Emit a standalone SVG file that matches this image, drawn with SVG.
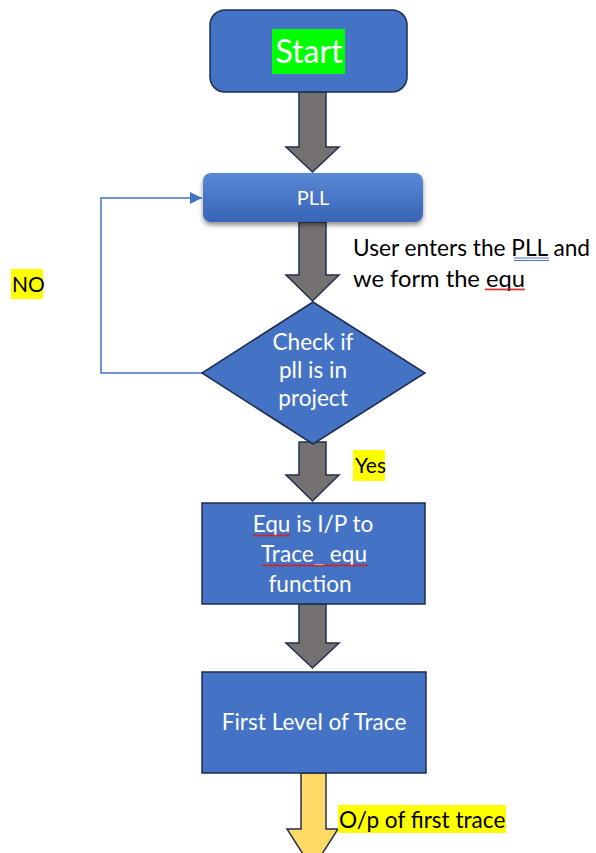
<svg xmlns="http://www.w3.org/2000/svg" width="596" height="853" viewBox="0 0 596 853">
  <style>
    .box { fill: #4472c4; stroke: #1f2d4d; stroke-width: 1.5; }
    .blk { fill: #767171; stroke: #22304f; stroke-width: 1.5; stroke-linejoin: miter; }
    .out { fill: #ffd966; stroke: #22304f; stroke-width: 1.5; }
    .t { font-family: Lato, "Liberation Sans", sans-serif; font-size: 22.6px; }
    .s { font-size: 21px; }
    .w { fill: #ffffff; text-anchor: middle; }
    .k { fill: #000000; }
    .hl { fill: #ffff00; }
    .loop { fill: none; stroke: #4472c4; stroke-width: 1.5; }
  </style>
  <defs>
    <linearGradient id="pllFill" x1="0" y1="0" x2="0" y2="1">
      <stop offset="0" stop-color="#5a88d6"/>
      <stop offset="1" stop-color="#3864b6"/>
    </linearGradient>
    <filter id="shadow" x="-10%" y="-20%" width="120%" height="150%">
      <feGaussianBlur in="SourceAlpha" stdDeviation="2.5"/>
      <feOffset dx="0" dy="3" result="b"/>
      <feComponentTransfer><feFuncA type="linear" slope="0.45"/></feComponentTransfer>
      <feMerge><feMergeNode/><feMergeNode in="SourceGraphic"/></feMerge>
    </filter>
    <pattern id="squiggle" width="4" height="3" patternUnits="userSpaceOnUse">
      <path d="M0,2.5 L1,0.5 L2,2.5 L3,0.5 L4,2.5" fill="none" stroke="#d02020" stroke-width="0.9"/>
    </pattern>
    <marker id="tri" viewBox="0 0 12 12" refX="12" refY="6" markerWidth="12" markerHeight="12" markerUnits="userSpaceOnUse" orient="auto">
      <path d="M0,0 L12,6 L0,12 z" fill="#4472c4"/>
    </marker>
  </defs>

  <rect width="596" height="853" fill="#ffffff"/>

  <!-- block arrows and the loop-back line -->
  <g id="connectors">
    <polygon class="blk" points="299,92 326,92 326,147 339,147 312.5,172 286,147 299,147"/>
    <polygon class="blk" points="299,222 326,222 326,275 339,275 312.5,301 286,275 299,275"/>
    <polygon class="blk" points="299,442 326,442 326,475 339,475 312.5,501 286,475 299,475"/>
    <polygon class="blk" points="299,604 326,604 326,643 339,643 312.5,668 286,643 299,643"/>
    <polygon class="out" points="301,773 326,773 326,829 338,829 312.5,869 287,829 301,829"/>
    <polyline class="loop" points="202,373 101,373 101,198 202,198" marker-end="url(#tri)"/>
  </g>

  <g id="start">
    <rect class="box" x="210" y="10" width="197" height="82" rx="15"/>
    <rect fill="#00ff00" x="272" y="29" width="73" height="45"/>
    <text class="t w" x="309" y="63" style="font-size:32px">Start</text>
  </g>

  <g id="pll">
    <rect x="203" y="173" width="220" height="49" rx="8" fill="url(#pllFill)" filter="url(#shadow)"/>
    <text class="t w" x="313" y="205" style="font-size:20px">PLL</text>
  </g>

  <g id="note">
    <text class="t k" x="353" y="256" textLength="237" lengthAdjust="spacingAndGlyphs">User enters the PLL and</text>
    <text class="t k" x="353" y="287" textLength="172" lengthAdjust="spacingAndGlyphs">we form the equ</text>
    <path d="M514,258 H549 M514,260.5 H549" stroke="#4a72c8" stroke-width="1" fill="none"/>
    <rect x="485" y="288" width="40" height="3" fill="url(#squiggle)"/>
  </g>

  <g id="no-label">
    <rect class="hl" x="11" y="269" width="32" height="30"/>
    <text class="t k s" x="12" y="292">NO</text>
  </g>

  <g id="check">
    <polygon class="box" points="313,302 425,373 313,444 202,373"/>
    <text class="t w" x="313" y="350">Check if</text>
    <text class="t w" x="313" y="378">pll is in</text>
    <text class="t w" x="313" y="406">project</text>
  </g>

  <g id="yes-label">
    <rect class="hl" x="353" y="450" width="32" height="31"/>
    <text class="t k s" x="355" y="473">Yes</text>
  </g>

  <g id="equ">
    <rect class="box" x="202" y="503" width="223" height="101"/>
    <text class="t w" x="313" y="532">Equ is I/P to</text>
    <text class="t w" x="314" y="562">Trace_ equ</text>
    <text class="t w" x="310" y="592">function</text>
    <rect x="253" y="534" width="37" height="3" fill="url(#squiggle)"/>
    <rect x="262" y="564" width="106" height="3" fill="url(#squiggle)"/>
  </g>

  <g id="first-level">
    <rect class="box" x="202" y="672" width="224" height="101"/>
    <text class="t w" x="314" y="730">First Level of Trace</text>
  </g>

  <g id="output-label">
    <rect class="hl" x="338" y="805" width="168" height="28"/>
    <text class="t k" x="339" y="828">O/p of first trace</text>
  </g>
</svg>
